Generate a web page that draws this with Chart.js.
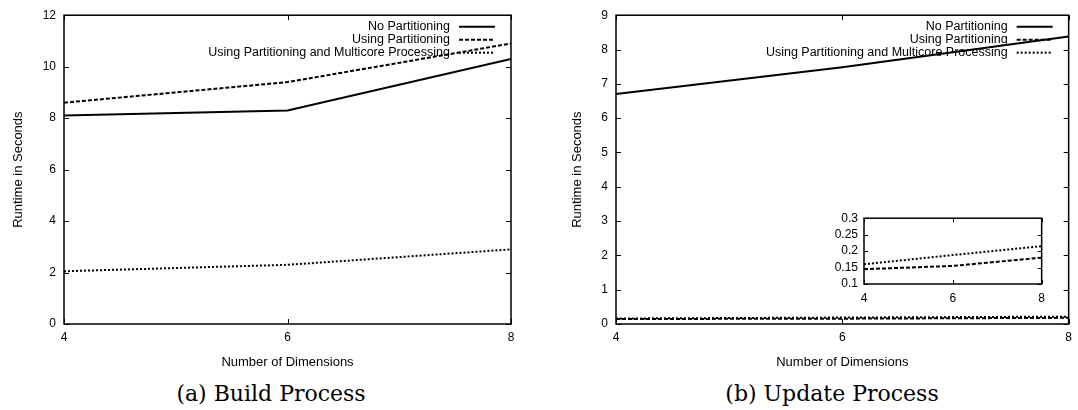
<!DOCTYPE html>
<html>
<head>
<meta charset="utf-8">
<script src="https://cdn.jsdelivr.net/npm/chart.js@4.4.1/dist/chart.umd.min.js"></script>
<style>
  body { margin: 0; background: #fff; }
  #wrap { position: relative; width: 1078px; height: 410px; overflow: hidden; }
  .box { position: absolute; }
  .cap { position: absolute; top: 383px; font-family: "DejaVu Serif", serif; font-size: 22px; color: #000;
         white-space: nowrap; transform: translateX(-50%); line-height: 1; }
</style>
</head>
<body>
<div id="wrap">
  <div class="box" style="left:0;top:0;width:539px;height:370px"><canvas id="build"></canvas></div>
  <div class="box" style="left:539px;top:0;width:539px;height:370px"><canvas id="update"></canvas></div>
  <div class="box" style="left:790px;top:205px;width:262px;height:105px"><canvas id="inset"></canvas></div>
  <div class="cap" style="left:271px">(a) Build Process</div>
  <div class="cap" style="left:832px">(b) Update Process</div>
</div>
<script>
// values
const dims = [4, 6, 8]
const seriesNames = ['No Partitioning', 'Using Partitioning', 'Using Partitioning and Multicore Processing']

const buildNoPart = [8.1, 8.3, 10.3]
const buildPart = [8.6, 9.4, 10.9]
const buildMulti = [2.05, 2.3, 2.9]

const updateNoPart = [6.7, 7.48, 8.38]
const updatePart = [0.145, 0.155, 0.18]
const updateMulti = [0.16, 0.188, 0.215]

const dashes = [[], [4, 2], [2, 2]]

Chart.defaults.font.family = '"Liberation Sans", Arial, sans-serif'
Chart.defaults.font.size = 12
Chart.defaults.color = '#000'

function makeSets(series) {
    return series.map((vals, i) => ({
        label: seriesNames[i],
        data: vals.map((v, k) => ({ x: dims[k], y: v })),
        borderColor: '#000',
        borderWidth: 2,
        borderDash: dashes[i],
        pointRadius: 0,
        tension: 0,
        fill: false
    }))
}

// gnuplot style frame with inward ticks on all four sides
const frame = {
    id: 'frame',
    afterDatasetsDraw(chart, args, opts) {
        const { ctx, chartArea: a, scales } = chart
        const len = opts.len || 5
        ctx.save()
        ctx.strokeStyle = '#000'
        ctx.lineWidth = 1
        ctx.beginPath()
        for (const t of scales.x.ticks) {
            const px = Math.round(scales.x.getPixelForValue(t.value)) + 0.5
            ctx.moveTo(px, a.bottom); ctx.lineTo(px, a.bottom - len)
            ctx.moveTo(px, a.top); ctx.lineTo(px, a.top + len)
        }
        for (const t of scales.y.ticks) {
            const py = Math.round(scales.y.getPixelForValue(t.value)) + 0.5
            ctx.moveTo(a.left, py); ctx.lineTo(a.left + len, py)
            ctx.moveTo(a.right, py); ctx.lineTo(a.right - len, py)
        }
        ctx.stroke()
        ctx.lineWidth = 1.5
        ctx.strokeRect(a.left, a.top, a.right - a.left, a.bottom - a.top)
        ctx.restore()
    }
}

// key in the top right corner: text first, then line sample
const gnuKey = {
    id: 'gnuKey',
    beforeDatasetsDraw(chart, args, opts) {
        if (!opts.show) return
        const { ctx, chartArea: a } = chart
        ctx.save()
        ctx.font = '12.5px "Liberation Sans", Arial, sans-serif'
        ctx.fillStyle = '#000'
        ctx.textAlign = 'right'
        ctx.textBaseline = 'middle'
        chart.data.datasets.forEach((ds, i) => {
            const y = a.top + 11.5 + i * 13
            ctx.fillText(ds.label, a.right - 61, y)
            ctx.beginPath()
            ctx.setLineDash(ds.borderDash)
            ctx.lineWidth = ds.borderWidth
            ctx.strokeStyle = '#000'
            ctx.moveTo(a.right - 52, y)
            ctx.lineTo(a.right - 16, y)
            ctx.stroke()
        })
        ctx.restore()
    }
}

function makeChart(el, series, cfg) {
    return new Chart(el, {
        type: 'line',
        data: { datasets: makeSets(series) },
        plugins: [frame, gnuKey],
        options: {
            responsive: true,
            maintainAspectRatio: false,
            animation: false,
            layout: { padding: cfg.padding },
            plugins: {
                legend: { display: false },
                tooltip: { enabled: false },
                frame: { len: cfg.tickLen },
                gnuKey: { show: cfg.key }
            },
            scales: {
                x: {
                    type: 'linear',
                    min: 4,
                    max: 8,
                    grid: { display: false, drawTicks: false },
                    border: { display: false },
                    ticks: { stepSize: 2, padding: cfg.xPad, maxRotation: 0, autoSkip: false },
                    title: { display: !!cfg.xTitle, text: cfg.xTitle, font: { size: 13 }, padding: { top: 9, bottom: 0 } },
                    afterFit: s => { s.height = cfg.xHeight }
                },
                y: {
                    min: cfg.yMin,
                    max: cfg.yMax,
                    grid: { display: false, drawTicks: false },
                    border: { display: false },
                    ticks: {
                        stepSize: cfg.yStep,
                        padding: cfg.yPad,
                        autoSkip: false,
                        callback: v => String(+v.toFixed(2))
                    },
                    title: { display: !!cfg.yTitle, text: cfg.yTitle, font: { size: 13 }, padding: { top: cfg.yTitlePad, bottom: 0 } },
                    afterFit: s => { s.width = cfg.yWidth }
                }
            }
        }
    })
}

makeChart(document.getElementById('build'), [buildNoPart, buildPart, buildMulti], {
    padding: { left: 0, top: 12, right: 28, bottom: 0 },
    yMin: 0, yMax: 12, yStep: 2,
    yWidth: 64, xHeight: 46, xPad: 6, yPad: 8, yTitlePad: 11, tickLen: 5,
    xTitle: 'Number of Dimensions', yTitle: 'Runtime in Seconds', key: true
})

makeChart(document.getElementById('update'), [updateNoPart, updatePart, updateMulti], {
    padding: { left: 0, top: 12, right: 5, bottom: 0 },
    yMin: 0, yMax: 9, yStep: 1,
    yWidth: 77, xHeight: 46, xPad: 6, yPad: 8, yTitlePad: 31, tickLen: 5,
    xTitle: 'Number of Dimensions', yTitle: 'Runtime in Seconds', key: true
})

// zoomed inset of the two partitioned series
makeChart(document.getElementById('inset'), [[], updatePart, updateMulti], {
    padding: { left: 0, top: 10, right: 6, bottom: 0 },
    yMin: 0.1, yMax: 0.3, yStep: 0.05,
    yWidth: 74, xHeight: 26, xPad: 7, yPad: 6, yTitlePad: 0, tickLen: 4,
    xTitle: '', yTitle: '', key: false
})
</script>
</body>
</html>
